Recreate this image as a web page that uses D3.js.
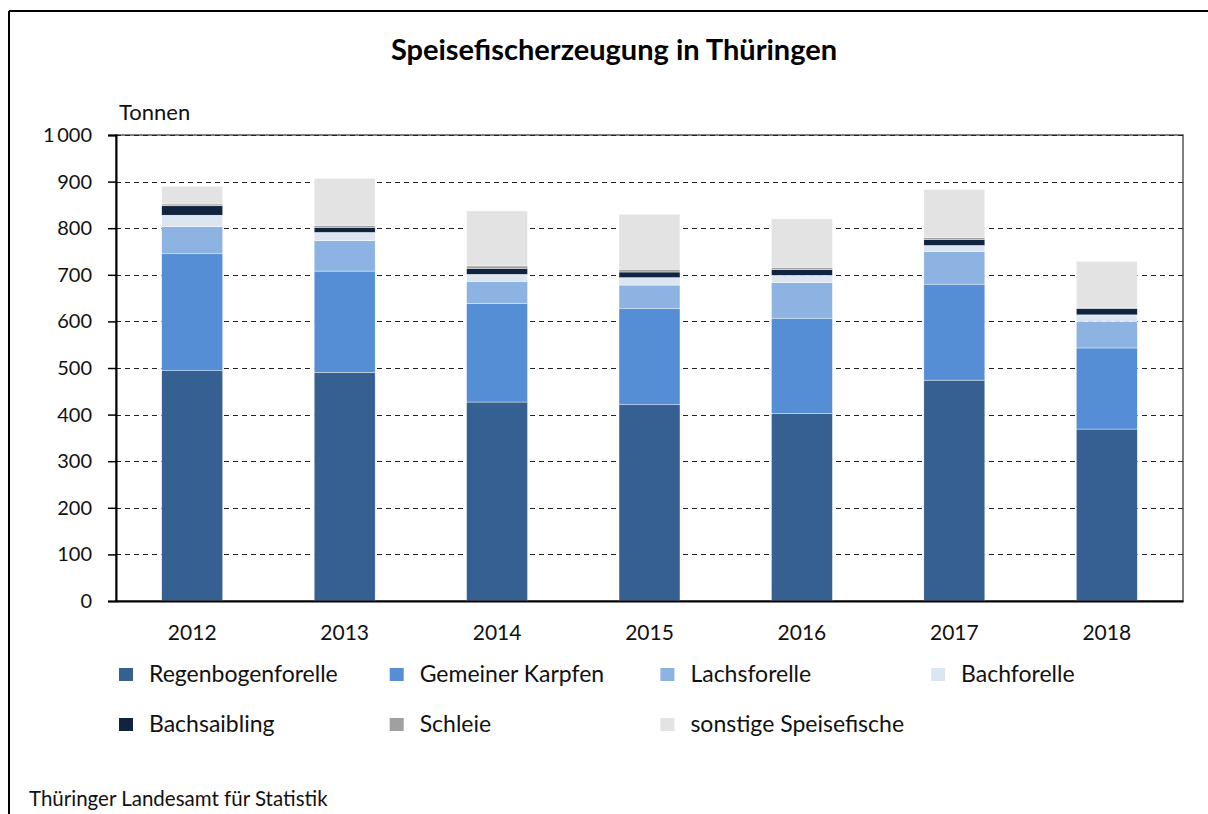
<!DOCTYPE html>
<html>
<head>
<meta charset="utf-8">
<script src="https://cdn.jsdelivr.net/npm/d3@7"></script>
<style>
  body { margin: 0; background: #fff; }
  svg { font-family: Lato, "Noto Sans", sans-serif; }
</style>
</head>
<body>
<div id="chart"></div>
<script>
var years = ["2012", "2013", "2014", "2015", "2016", "2017", "2018"];
var seriesNames = ["Regenbogenforelle", "Gemeiner Karpfen", "Lachsforelle", "Bachforelle",
                   "Bachsaibling", "Schleie", "sonstige Speisefische"];
var seriesColors = ["#366092", "#558ed5", "#8db3e2", "#dce6f2", "#10243f", "#a0a0a0", "#e3e3e3"];

// values in Tonnen, per year
var regenbogenforelle = [494, 491, 427, 421, 403, 474, 369];
var gemeinerKarpfen   = [251, 217, 212, 206, 204, 206, 174];
var lachsforelle      = [58, 65, 47, 51, 76, 70, 57];
var bachforelle       = [25, 18, 15, 16, 16, 13, 14];
var bachsaibling      = [20, 11, 13, 12, 12, 13, 13];
var schleie           = [4, 4, 5, 6, 5, 4, 3];
var sonstige          = [38, 101, 118, 118, 104, 103, 99];

var yTicks = [0, 100, 200, 300, 400, 500, 600, 700, 800, 900, 1000];

var width = 1208, height = 814;
var margin = {top: 135, left: 116, right: 1183, bottom: 601};

var svg = d3.select('#chart').append('svg').attr('width', width).attr('height', height);

// outer frame (only top and left visible)
svg.append('line').attr('x1', 9).attr('x2', width).attr('y1', 11).attr('y2', 11)
   .attr('stroke', '#000').attr('stroke-width', 2);
svg.append('line').attr('x1', 9).attr('x2', 9).attr('y1', 11).attr('y2', height)
   .attr('stroke', '#000').attr('stroke-width', 2);

svg.append('text').attr('x', 614).attr('y', 60).attr('text-anchor', 'middle')
   .attr('font-size', 29).attr('font-weight', 'bold').text('Speisefischerzeugung in Thüringen');

var x = d3.scaleBand().domain(years).range([margin.left, margin.right]).paddingInner(0.6).paddingOuter(0.3);
var y = d3.scaleLinear().domain([0, 1000]).range([margin.bottom, margin.top]);

// plot area border
svg.append('rect').attr('x', margin.left).attr('y', margin.top)
   .attr('width', margin.right - margin.left).attr('height', margin.bottom - margin.top)
   .attr('fill', 'none').attr('stroke', '#555').attr('stroke-width', 1.5);

// gridlines
svg.append('g').selectAll('line').data(yTicks.filter(function (d) { return d > 0; }))
   .enter().append('line')
   .attr('x1', margin.left).attr('x2', margin.right)
   .attr('y1', function (d) { return Math.round(y(d)) + 0.5; })
   .attr('y2', function (d) { return Math.round(y(d)) + 0.5; })
   .attr('stroke', '#222').attr('stroke-dasharray', '5,4').attr('stroke-width', 1.2);

// stacked bars
var rows = years.map(function (yr, i) {
  return {year: yr, s0: regenbogenforelle[i], s1: gemeinerKarpfen[i], s2: lachsforelle[i],
          s3: bachforelle[i], s4: bachsaibling[i], s5: schleie[i], s6: sonstige[i]};
});
var stack = d3.stack().keys(['s0', 's1', 's2', 's3', 's4', 's5', 's6'])(rows);

svg.append('g').selectAll('g').data(stack).enter().append('g')
   .attr('fill', function (d, i) { return seriesColors[i]; })
   .selectAll('rect').data(function (d) { return d; }).enter().append('rect')
   .attr('x', function (d) { return x(d.data.year); })
   .attr('width', x.bandwidth())
   .attr('y', function (d) { return y(d[1]); })
   .attr('height', function (d) { return y(d[0]) - y(d[1]); })
   .attr('stroke', '#fff').attr('stroke-width', 0.4);

// y axis
var yAxis = svg.append('g').attr('transform', 'translate(' + margin.left + ',0)')
   .call(d3.axisLeft(y).tickValues(yTicks).tickSize(8).tickPadding(16)
         .tickFormat(function (d) { return d3.format(',')(d).replace(',', '\u2009'); }));
yAxis.select('.domain').attr('stroke', '#000').attr('stroke-width', 2);
yAxis.selectAll('.tick line').attr('stroke', '#000').attr('stroke-width', 1.5);
yAxis.selectAll('.tick text').attr('font-size', 20).attr('fill', '#111')
   .attr('font-family', 'Lato, sans-serif');

// x axis
var xAxis = svg.append('g').attr('transform', 'translate(0,' + margin.bottom + ')')
   .call(d3.axisBottom(x).tickSize(0).tickPadding(24));
xAxis.select('.domain').attr('stroke', '#000').attr('stroke-width', 2);
xAxis.selectAll('.tick text').attr('font-size', 21).attr('fill', '#111')
   .attr('font-family', 'Lato, sans-serif');

svg.append('text').attr('x', 119).attr('y', 120).attr('font-size', 22).attr('fill', '#111').text('Tonnen');

// legend
var legend = svg.append('g').selectAll('g').data(seriesNames).enter().append('g')
   .attr('transform', function (d, i) {
     return 'translate(' + (119 + (i % 4) * 270.7) + ',' + (668 + Math.floor(i / 4) * 50) + ')';
   });
legend.append('rect').attr('width', 14).attr('height', 13)
   .attr('fill', function (d, i) { return seriesColors[i]; });
legend.append('text').attr('x', 30).attr('y', 14).attr('font-size', 23).attr('fill', '#111')
   .text(function (d) { return d; });

svg.append('text').attr('x', 29).attr('y', 806).attr('font-size', 20.5).attr('fill', '#111')
   .text('Thüringer Landesamt für Statistik');
</script>
</body>
</html>
